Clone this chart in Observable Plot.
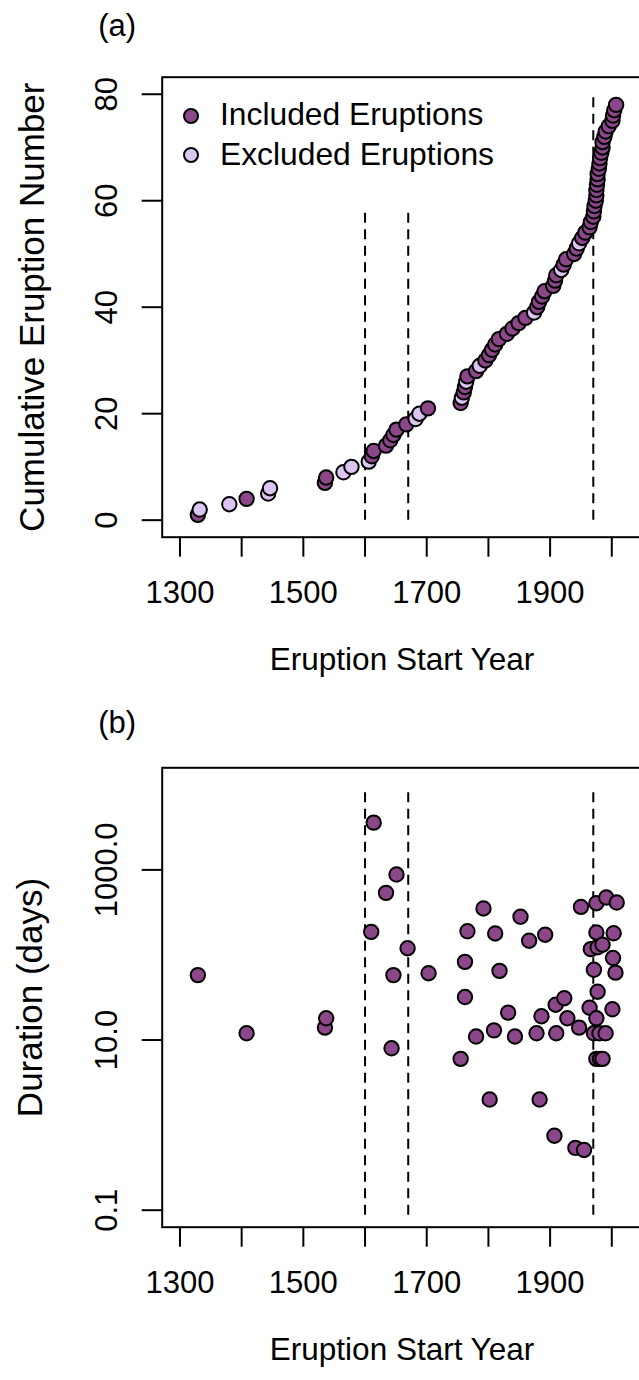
<!DOCTYPE html>
<html><head><meta charset="utf-8">
<script src="https://cdn.jsdelivr.net/npm/d3@7"></script>
<script src="https://cdn.jsdelivr.net/npm/@observablehq/plot@0.6"></script>
<style>
body{margin:0;background:#fff;}
#wrap{position:relative;width:639px;height:1380px;overflow:hidden;font-family:"Liberation Sans",Arial,Helvetica,sans-serif;}
.panel{position:absolute;left:0;}
.lg-dot{position:absolute;width:16.4px;height:16.4px;box-sizing:border-box;border:2px solid #000;border-radius:50%;}
.lg-txt{position:absolute;font-size:31.8px;line-height:31.8px;white-space:nowrap;color:#000;}
</style></head><body><div id="wrap"></div>
<script>
// ---------- data ----------
const xTicks = [1300,1400,1500,1600,1700,1800,1900,2000];
const xTickLabels = ["1300","","1500","","1700","","1900",""];
const yTicksA = [0,20,40,60,80];
const yTickLabelsA = ["0","20","40","60","80"];
const yTicksB = [0.1,10,1000];
const yTickLabelsB = ["0.1","10.0","1000.0"];

const yearsA = [1329,1332,1380,1408,1443,1446,1535,1537,1565,1578,
  1606,1611,1614,1634,1641,1646,1651,1667,1682,1688,
  1702,1755,1757,1760,1762,1764,1766,1780,1786,1795,
  1801,1806,1811,1817,1830,1839,1849,1860,1874,1879,
  1882,1887,1891,1905,1908,1910,1918,1922,1926,1939,
  1943,1947,1952,1957,1964,1966,1970,1971,1972,1974,
  1975,1975,1976,1977,1977,1979,1980,1981,1983,1985,
  1985,1988,1990,1995,2001,2002,2004,2007];
const cumA = [1,2,3,4,5,6,7,8,9,10,11,12,13,14,15,16,17,18,19,20,
  21,22,23,24,25,26,27,28,29,30,31,32,33,34,35,36,37,38,39,40,
  41,42,43,44,45,46,47,48,49,50,51,52,53,54,55,56,57,58,59,60,
  61,62,63,64,65,66,67,68,69,70,71,72,73,74,75,76,77,78];
const statusA = ["I","E","E","I","E","E","I","I","E","E",
  "E","I","I","I","I","I","I","I","E","E",
  "I","I","E","I","I","E","I","I","E","I",
  "I","I","I","I","I","I","I","I","E","I",
  "I","I","I","I","I","I","E","I","I","I",
  "I","E","I","I","I","I","I","I","I","I",
  "I","I","I","I","I","I","I","I","I","I",
  "I","I","I","I","I","I","I","I"];

const yearsB = [1329,1408,1535,1537,1610,1614,1634,1643,1646,1651,
  1669,1703,1755,1762,1762,1766,1780,1792,1802,1809,
  1811,1818,1832,1843,1852,1866,1878,1883,1886,1892,
  1907,1909,1910,1923,1928,1941,1947,1950,1955,1964,
  1966,1971,1971,1975,1975,1975,1975,1977,1977,1980,
  1981,1985,1985,1990,1991,2001,2002,2003,2006,2008];
const durB = [58,12,14,18,187,3590,537,8,58,881,
  120,61,6,32,83,190,11,352,2.0,13,
  179,65,21,11,281,147,12,2.0,19,173,
  0.75,26,12,31,18,0.54,14,367,0.51,24,
  117,67,12,406,184,18,6,37,123,12,
  6,132,6,12,473,23,92,180,62,413];

const dashYears = [1600,1670,1970];
const dashTopA = [58,58,80];
const dashBottomA = [0,0,0];
const dashTopB = [8100,8100,8100];
const dashBottomB = [0.087,0.087,0.087];

const statusNames = ["I","E"];
const legendLabels = ["Included Eruptions","Excluded Eruptions"];
const colors = ["#8B4789","#DCC5F2"];

// ---------- build ----------
const FONT = '"Liberation Sans",Arial,Helvetica,sans-serif';
const dataA = yearsA.map((y,i)=>({year:y, n:cumA[i], status:statusA[i]}));
const dataB = yearsB.map((y,i)=>({year:y, dur:durB[i], status:"I"}));
const dashA = dashYears.map((y,i)=>({year:y, lo:dashBottomA[i], hi:dashTopA[i]}));
const dashB = dashYears.map((y,i)=>({year:y, lo:dashBottomB[i], hi:dashTopB[i]}));

const common = {
  width: 639, height: 690,
  marginLeft: 161.7, marginRight: -2.4, marginTop: 77, marginBottom: 153.3,
  x: {domain: [1271.2, 2048.8]},
  color: {domain: statusNames, range: colors},
  style: {fontFamily: FONT, fontSize: "31px", color: "#000", background: "#fff", overflow: "hidden"}
};
const xAxis = () => Plot.axisX({ticks: xTicks, tickSize: 20, tickPadding: 23.5, strokeWidth: 2,
  tickFormat: d => xTickLabels[xTicks.indexOf(d)], label: null});
const yTitle = (label, dx) => Plot.text([label], {text: d=>d, frameAnchor: "left", dx, rotate: -90,
  textAnchor: "middle", lineAnchor: "bottom", fontSize: 35});
const xTitle = () => Plot.text(["Eruption Start Year"], {text: d=>d, frameAnchor: "bottom", dy: 133, lineAnchor: "bottom", fontSize: 31.5});

function panel(opts){
  return Plot.plot({...common, ...opts});
}

const plotA = panel({
  marginTop: 76.7,
  y: {domain: [-3.2, 83.2]},
  marks: [
    xAxis(),
    Plot.axisY({ticks: yTicksA, tickSize: 20, tickPadding: 25.7, tickRotate: -90, strokeWidth: 2,
      tickFormat: d => yTickLabelsA[yTicksA.indexOf(d)], label: null}),
    Plot.frame({stroke: "#000", strokeWidth: 2}),
    Plot.ruleX(dashA, {x: "year", y1: "lo", y2: "hi", stroke: "#000", strokeWidth: 2, strokeDasharray: "10,6.5"}),
    Plot.dot(dataA, {x: "year", y: "n", fill: "status", r: 7.2, stroke: "#000", strokeWidth: 2}),
    yTitle("Cumulative Eruption Number", -118.7),
    xTitle(),
    Plot.text(["(a)"], {text: d=>d, frameAnchor: "top-left", dx: -63.9, dy: -41.5, textAnchor: "start", lineAnchor: "bottom"})
  ]
});

const plotB = panel({
  marginTop: 77.3,
  y: {type: "log", domain: [Math.pow(10,-1.2), Math.pow(10,4.2)]},
  marks: [
    xAxis(),
    Plot.axisY({ticks: yTicksB, tickSize: 20, tickPadding: 25.7, tickRotate: -90, strokeWidth: 2,
      tickFormat: d => yTickLabelsB[yTicksB.indexOf(d)], label: null}),
    Plot.frame({stroke: "#000", strokeWidth: 2}),
    Plot.ruleX(dashB, {x: "year", y1: "lo", y2: "hi", stroke: "#000", strokeWidth: 2, strokeDasharray: "10,6.5"}),
    Plot.dot(dataB, {x: "year", y: "dur", fill: "status", r: 7.2, stroke: "#000", strokeWidth: 2}),
    yTitle("Duration (days)", -120.7),
    xTitle(),
    Plot.text(["(b)"], {text: d=>d, frameAnchor: "top-left", dx: -63.9, dy: -35, textAnchor: "start", lineAnchor: "bottom"})
  ]
});

const wrap = document.getElementById("wrap");
plotA.classList.add("panel"); plotA.style.top = "0px";
plotB.classList.add("panel"); plotB.style.top = "690px";
wrap.appendChild(plotA); wrap.appendChild(plotB);

// legend (inside panel a, top-left)
const lgDotCx = 190.7, lgDotCy = [116, 155], lgTxtX = 220, lgTxtTop = [98.8, 138.8];
legendLabels.forEach((lab,i)=>{
  const d = document.createElement("div");
  d.className = "lg-dot";
  d.style.left = (lgDotCx - 8.2) + "px";
  d.style.top = (lgDotCy[i] - 8.2) + "px";
  d.style.background = colors[i];
  wrap.appendChild(d);
  const t = document.createElement("div");
  t.className = "lg-txt";
  t.style.left = lgTxtX + "px";
  t.style.top = lgTxtTop[i] + "px";
  t.textContent = lab;
  wrap.appendChild(t);
});
</script></body></html>
